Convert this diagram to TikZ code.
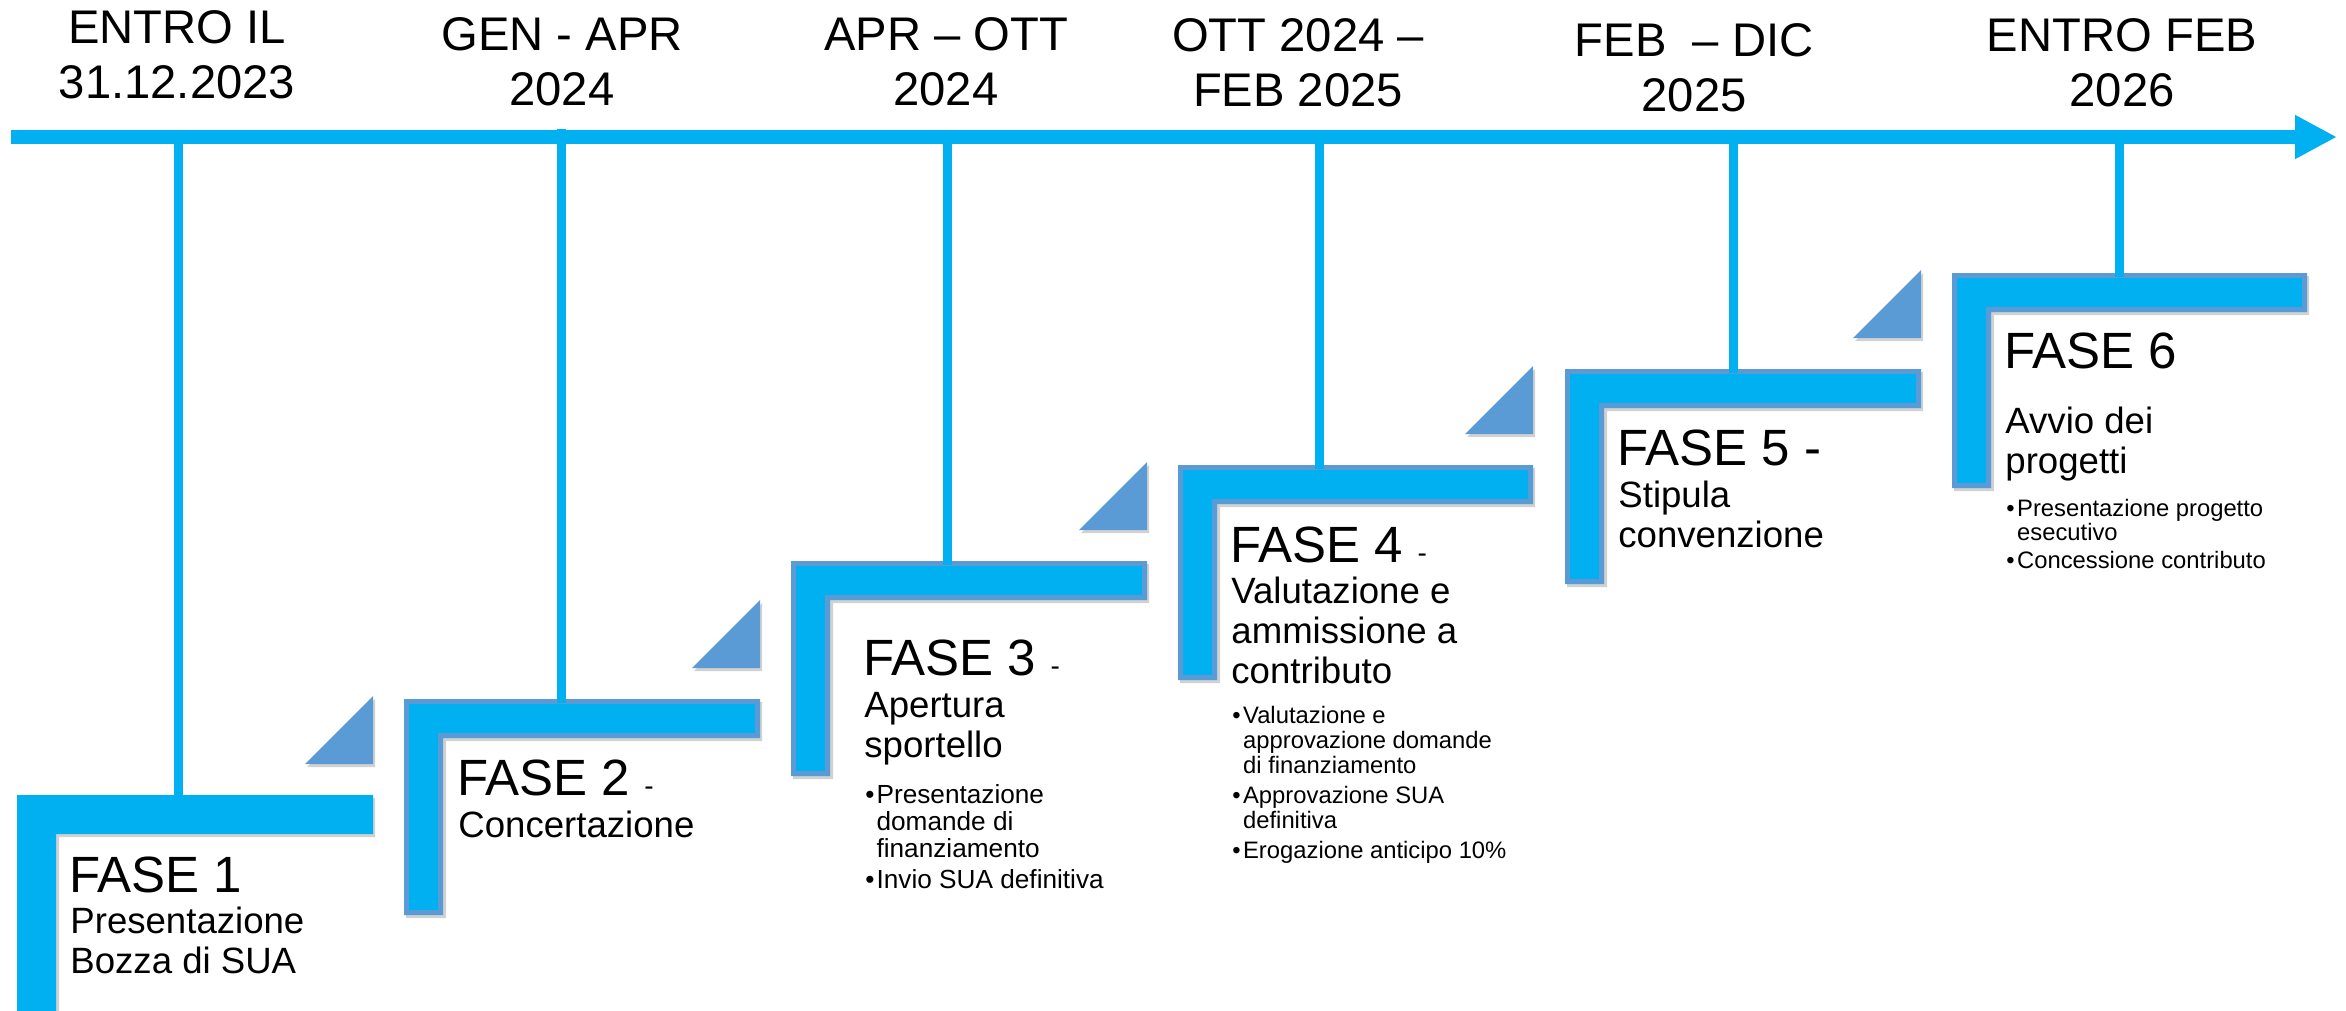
\documentclass[tikz,border=0pt]{standalone}
\usepackage{fontspec}
\setmainfont{Liberation Sans}
\usetikzlibrary{arrows.meta}
\definecolor{cyanb}{HTML}{00B0F0}
\definecolor{steelb}{HTML}{5B9BD5}
% L-shaped step: #1=left #2=top #3=right #4=bottom
\newcommand{\stepfill}[4]{%
  \fill[black,opacity=.18] (#1+2,#2+3) -- (#3+2,#2+3) -- (#3+2,#2+42) -- (#1+42,#2+42) -- (#1+42,#4+3) -- (#1+2,#4+3) -- cycle;
  \fill[cyanb] (#1,#2) -- (#3,#2) -- (#3,#2+39) -- (#1+39,#2+39) -- (#1+39,#4) -- (#1,#4) -- cycle;}
\newcommand{\stepline}[4]{%
  \draw[steelb,line width=2.5pt,line join=miter] (#1+2.5,#2+2.5) -- (#3-2.5,#2+2.5) -- (#3-2.5,#2+36.5) -- (#1+36.5,#2+36.5) -- (#1+36.5,#4-2.5) -- (#1+2.5,#4-2.5) -- cycle;}
% triangle: #1=right x, #2=bottom y
\newcommand{\steptri}[2]{%
  \fill[black,opacity=.18] (#1-66,#2+3) -- (#1+2,#2+3) -- (#1+2,#2-65) -- cycle;
  \fill[steelb] (#1-68,#2) -- (#1,#2) -- (#1,#2-68) -- cycle;}
\newcommand{\sdash}{{\fontsize{14}{14}\selectfont -}}
\begin{document}
\begin{tikzpicture}[x=0.5pt,y=-0.5pt,
  conn/.style={cyanb,line width=4.5pt},
  datelbl/.style={anchor=base,inner sep=0pt,font=\fontsize{23.6}{27.5}\selectfont},
  head/.style={anchor=base west,inner sep=0pt,font=\fontsize{25.5}{28}\selectfont},
  sub/.style={anchor=base west,inner sep=0pt,font=\fontsize{18.3}{20}\selectfont},
  bulA/.style={anchor=base west,inner sep=0pt,font=\fontsize{13.1}{13.5}\selectfont},
  bulB/.style={anchor=base west,inner sep=0pt,font=\fontsize{11.9}{12.5}\selectfont},
  bulC/.style={anchor=base west,inner sep=0pt,font=\fontsize{11.9}{12}\selectfont}]
\useasboundingbox (0,0) rectangle (2346,1011);

% timeline
\coordinate (tstart) at (11,137);
\coordinate (tend) at (2337,137);
\draw[cyanb,line width=7pt,-{Triangle[length=21pt,width=20.5pt]}] (tstart) -- (tend);

% triangles
\steptri{373}{764}
\steptri{760}{668}
\steptri{1147}{530}
\steptri{1533}{434}
\steptri{1921}{338}

% steps
\stepfill{17}{795}{373}{1040}
\stepfill{404}{699}{760}{915}
\stepline{404}{699}{760}{915}
\stepfill{791}{561}{1147}{776}
\stepline{791}{561}{1147}{776}
\stepfill{1178}{465}{1533}{680}
\stepline{1178}{465}{1533}{680}
\stepfill{1565}{369}{1921}{584}
\stepline{1565}{369}{1921}{584}
\stepfill{1952}{273}{2307}{488}
\stepline{1952}{273}{2307}{488}

% connectors
\coordinate (t1) at (178,131);  \coordinate (p1) at (178,799);
\coordinate (t2) at (561,129);  \coordinate (p2) at (561,703);
\coordinate (t3) at (947,131);  \coordinate (p3) at (947,565);
\coordinate (t4) at (1319,131); \coordinate (p4) at (1319,469);
\coordinate (t5) at (1733,131); \coordinate (p5) at (1733,373);
\coordinate (t6) at (2119,131); \coordinate (p6) at (2119,277);
\draw[conn] (t1) -- (p1);
\draw[conn] (t2) -- (p2);
\draw[conn] (t3) -- (p3);
\draw[conn] (t4) -- (p4);
\draw[conn] (t5) -- (p5);
\draw[conn] (t6) -- (p6);

% date labels
\node[datelbl] (d1) at (177,44) {\begin{tabular}[t]{@{}c@{}}ENTRO IL\\31.12.2023\end{tabular}};
\node[datelbl] (d2) at (562,51) {\begin{tabular}[t]{@{}c@{}}GEN - APR\\2024\end{tabular}};
\node[datelbl] (d3) at (946,51) {\begin{tabular}[t]{@{}c@{}}APR – OTT\\2024\end{tabular}};
\node[datelbl] (d4) at (1298,52) {\begin{tabular}[t]{@{}c@{}}OTT 2024 –\\FEB 2025\end{tabular}};
\node[datelbl] (d5) at (1694,57) {\begin{tabular}[t]{@{}c@{}}FEB~ – DIC\\2025\end{tabular}};
\node[datelbl] (d6) at (2122,52) {\begin{tabular}[t]{@{}c@{}}ENTRO FEB\\2026\end{tabular}};

% step 1
\node[head] (h1) at (69,892) {FASE 1};
\node[sub] (s1) at (70,933) {\begin{tabular}[t]{@{}l@{}}Presentazione\\Bozza di SUA\end{tabular}};
% step 2
\node[head] (h2) at (457,795) {FASE 2 \sdash};
\node[sub] (s2) at (458,837) {Concertazione};
% step 3
\node[head] (h3) at (863,675) {FASE 3 \sdash};
\node[sub] (s3) at (864,717) {\begin{tabular}[t]{@{}l@{}}Apertura\\sportello\end{tabular}};
\node[bulA] (b3) at (865,803) {\begin{tabular}[t]{@{}l@{\hspace{1pt}}l@{}}•&Presentazione\\&domande di\\&finanziamento\\[2pt]•&Invio SUA definitiva\end{tabular}};
% step 4
\node[head] (h4) at (1230,562) {FASE 4 \sdash};
\node[sub] (s4) at (1231,603) {\begin{tabular}[t]{@{}l@{}}Valutazione e\\ammissione a\\contributo\end{tabular}};
\node[bulB] (b4) at (1232,723) {\begin{tabular}[t]{@{}l@{\hspace{1.2pt}}l@{}}•&Valutazione e\\&approvazione domande\\&di finanziamento\\[2.5pt]•&Approvazione SUA\\&definitiva\\[2.5pt]•&Erogazione anticipo 10\%\end{tabular}};
% step 5
\node[head] (h5) at (1617,465) {FASE 5 -};
\node[sub] (s5) at (1618,507) {\begin{tabular}[t]{@{}l@{}}Stipula\\convenzione\end{tabular}};
% step 6
\node[head] (h6) at (2004,368) {FASE 6};
\node[sub] (s6) at (2005,433) {\begin{tabular}[t]{@{}l@{}}Avvio dei\\progetti\end{tabular}};
\node[bulC] (b6) at (2006,516) {\begin{tabular}[t]{@{}l@{\hspace{1.2pt}}l@{}}•&Presentazione progetto\\&esecutivo\\[2pt]•&Concessione contributo\end{tabular}};
\end{tikzpicture}
\end{document}
